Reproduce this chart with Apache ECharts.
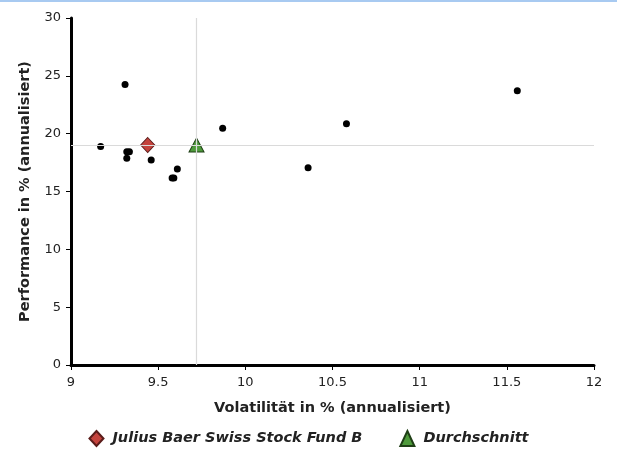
<!DOCTYPE html>
<html>
<head>
<meta charset="utf-8">
<script src="https://cdn.jsdelivr.net/npm/echarts@6/dist/echarts.min.js"></script>
<style>
html,body{margin:0;padding:0;background:#fff;}
#chart{width:617px;height:449px;}
</style>
</head>
<body>
<div id="chart"></div>
<script>
// Peer funds (volatility %, performance %)
var peerVolatility = [9.31, 9.17, 9.32, 9.335, 9.32, 9.46, 9.61, 9.58, 9.59, 9.87, 10.36, 10.58, 11.56];
var peerPerformance = [24.26, 18.9, 18.44, 18.44, 17.87, 17.72, 16.94, 16.16, 16.16, 20.46, 17.05, 20.86, 23.71];
var fundName = 'Julius Baer Swiss Stock Fund B';
var fundPoint = [9.44, 19.02];
var averageName = 'Durchschnitt';
var averagePoint = [9.72, 19.02];
var xTicks = { min: 9, max: 12, interval: 0.5 };
var yTicks = { min: 0, max: 30, interval: 5 };
var xTitle = 'Volatilität in % (annualisiert)';
var yTitle = 'Performance in % (annualisiert)';

var peerData = peerVolatility.map(function (v, i) { return [v, peerPerformance[i]]; });
var FONT = 'DejaVu Sans';

var chart = echarts.init(document.getElementById('chart'), null, { renderer: 'canvas' });
chart.setOption({
  animation: false,
  backgroundColor: '#fff',
  graphic: [{
    type: 'rect', left: 0, top: 0,
    shape: { width: 617, height: 2 },
    style: { fill: '#a8caf1' }, silent: true
  }],
  grid: { left: 71, right: 23, top: 18, bottom: 84 },
  legend: {
    data: [fundName, averageName],
    top: 425,
    left: 'center',
    itemWidth: 14,
    itemHeight: 15,
    itemGap: 37,
    selectedMode: false,
    textStyle: { fontFamily: FONT, fontSize: 14.5, fontWeight: 'bold', fontStyle: 'italic', color: '#222', padding: [0, 0, 0, 4] }
  },
  xAxis: {
    type: 'value',
    min: xTicks.min, max: xTicks.max, interval: xTicks.interval,
    name: xTitle,
    nameLocation: 'middle',
    nameGap: 36,
    nameTextStyle: { fontFamily: FONT, fontSize: 14.5, fontWeight: 'bold', color: '#222' },
    axisLine: { onZero: false, lineStyle: { color: '#000', width: 3 } },
    axisTick: { show: true, length: 5, lineStyle: { color: '#000', width: 1 } },
    axisLabel: { fontFamily: FONT, fontSize: 13, color: '#222', margin: 11 },
    splitLine: { show: false }
  },
  yAxis: {
    type: 'value',
    min: yTicks.min, max: yTicks.max, interval: yTicks.interval,
    name: yTitle,
    nameLocation: 'middle',
    nameGap: 38,
    nameTextStyle: { fontFamily: FONT, fontSize: 14.5, fontWeight: 'bold', color: '#222' },
    axisLine: { show: true, onZero: false, lineStyle: { color: '#000', width: 3 } },
    axisTick: { show: true, length: 5, lineStyle: { color: '#000', width: 1 } },
    axisLabel: { fontFamily: FONT, fontSize: 13, color: '#222', margin: 10 },
    splitLine: { show: false }
  },
  series: [
    {
      name: 'Peers',
      type: 'scatter',
      symbol: 'circle',
      symbolSize: 7,
      itemStyle: { color: '#000', opacity: 1 },
      data: peerData,
      z: 2
    },
    {
      name: fundName,
      type: 'scatter',
      symbol: 'diamond',
      symbolSize: [14, 15],
      itemStyle: { color: '#c4433d', borderColor: '#5a1c1a', borderWidth: 1, opacity: 1 },
      data: [fundPoint],
      z: 3
    },
    {
      name: averageName,
      type: 'scatter',
      symbol: 'triangle',
      symbolSize: [15, 14],
      itemStyle: { color: '#4e9a3b', borderColor: '#1f3f16', borderWidth: 1, opacity: 1 },
      data: [averagePoint],
      z: 3
    },
    {
      name: 'Referenzlinien',
      type: 'scatter',
      data: [],
      z: 10,
      markLine: {
        silent: true,
        symbol: ['none', 'none'],
        label: { show: false },
        lineStyle: { color: '#dadada', width: 1.2, type: 'solid' },
        data: [
          { xAxis: averagePoint[0] },
          { yAxis: averagePoint[1] }
        ],
        z: 10
      }
    }
  ]
});
</script>
</body>
</html>
